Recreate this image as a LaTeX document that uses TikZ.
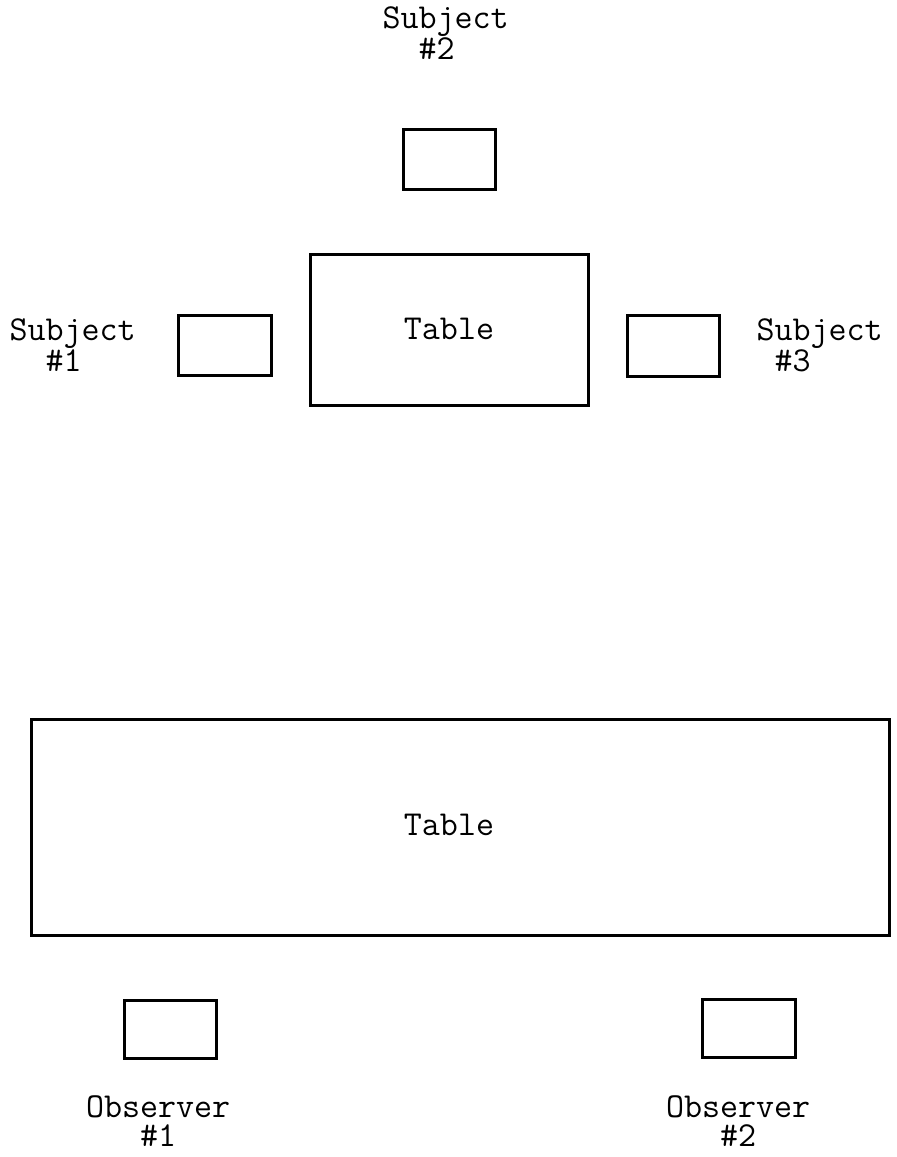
\documentclass[tikz,border=0pt]{standalone}
\begin{document}
\begin{tikzpicture}[x=1pt,y=-1pt,
  furn/.style={draw=black, line width=2.9pt, inner sep=0pt, outer sep=0pt},
  lbl/.style={inner sep=0pt, outer sep=0pt, anchor=north west, align=left, font=\ttfamily\fontsize{35}{29}\selectfont},
  ctr/.style={inner sep=0pt, outer sep=0pt, anchor=base, font=\ttfamily\fontsize{35}{29}\selectfont}]
\useasboundingbox (0,0) rectangle (897,1157);
% furniture
\node[furn, minimum width=92pt, minimum height=60pt] (chair2) at (449.5,159.5) {};
\node[furn, minimum width=278pt, minimum height=151pt] (table1) at (449.5,330) {};
\node[furn, minimum width=93pt, minimum height=60pt] (chair1) at (225,345.5) {};
\node[furn, minimum width=92pt, minimum height=61pt] (chair3) at (673.5,346) {};
\node[furn, minimum width=858pt, minimum height=216pt] (table2) at (460.5,827.5) {};
\node[furn, minimum width=92pt, minimum height=58pt] (obs1) at (170.5,1029.5) {};
\node[furn, minimum width=93pt, minimum height=58pt] (obs2) at (749,1028.5) {};
% labels
\node[ctr] (t1) at (449,339) {Table};
\node[ctr] (t2) at (449,835) {Table};
\node[lbl] (s2) at (382.5,6.6) {Subject\\\hphantom{Su}\#2};
\node[lbl] (s1) at (9.5,318.6) {Subject\\\hphantom{Su}\#1};
\node[lbl] (s3) at (756.5,318.6) {Subject\\\hphantom{S}\#3};
\node[lbl] (o1) at (86,1095.6) {Observer\\\hphantom{Obs}\#1};
\node[lbl] (o2) at (666,1095.6) {Observer\\\hphantom{Obs}\#2};
\end{tikzpicture}
\end{document}
